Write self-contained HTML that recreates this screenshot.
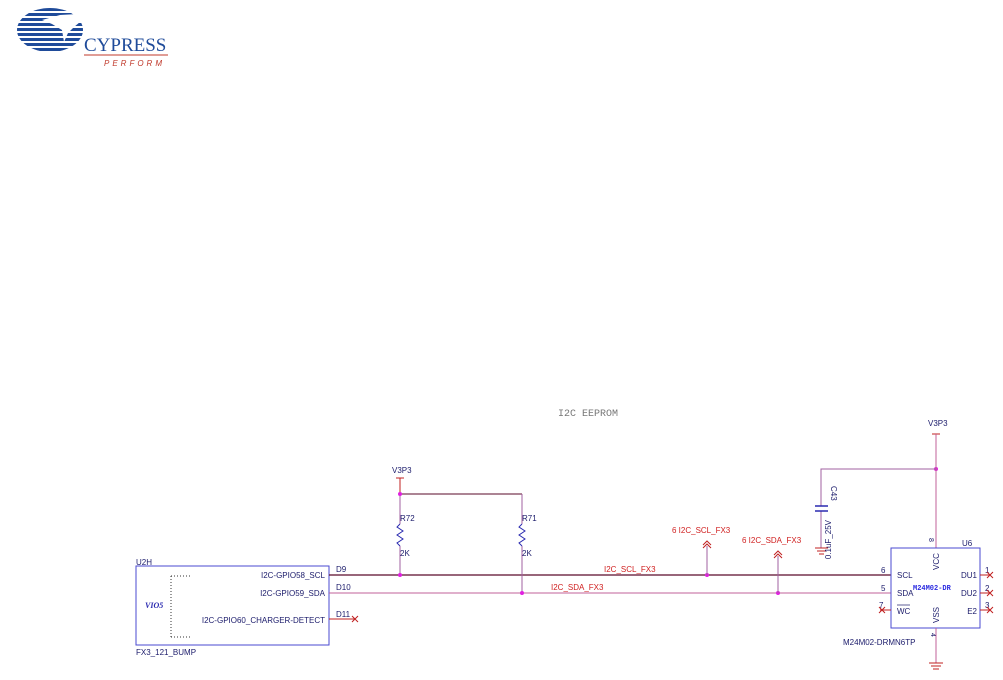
<!DOCTYPE html>
<html><head><meta charset="utf-8"><style>
html,body{margin:0;padding:0;background:#fff;}
svg{display:block;font-family:"Liberation Sans",sans-serif;}
</style></head><body>
<svg width="1003" height="680" viewBox="0 0 1003 680" xmlns="http://www.w3.org/2000/svg">
<!-- logo -->
<g>
<clipPath id="lc"><ellipse cx="50" cy="30" rx="33" ry="22"/></clipPath>
<g clip-path="url(#lc)" fill="#1f4b9a">
<rect x="10" y="8" width="80" height="3"/><rect x="10" y="13" width="80" height="3"/>
<rect x="10" y="18" width="80" height="3"/><rect x="10" y="23" width="80" height="3"/>
<rect x="10" y="28" width="80" height="3"/><rect x="10" y="33" width="80" height="3"/>
<rect x="10" y="38" width="80" height="3"/><rect x="10" y="43" width="80" height="3"/>
<rect x="10" y="48" width="80" height="3"/>
</g>
<path d="M42 20 L60 15 L78 14 L96 16 L88 20 L80 22 L74 27 L68 33 L64 42 L62 30 L52 24 Z" fill="#fff"/>
<text x="84" y="51" style="font-family:'Liberation Serif',serif;font-size:19px" fill="#1f4b9a">CYPRESS</text>
<line x1="84" y1="55" x2="168" y2="55" stroke="#c0392b" stroke-width="1"/>
<text x="104" y="66" font-size="8" fill="#c0392b" letter-spacing="3" font-style="italic">PERFORM</text>
</g>
<text x="558" y="416" style="font-family:'Liberation Mono',monospace;font-size:10px" fill="#777">I2C EEPROM</text>

<!-- U2H -->
<text x="136" y="565" font-size="8" fill="#1b1b6b">U2H</text>
<rect x="136" y="566" width="193" height="79" fill="none" stroke="#4a4ad0" stroke-width="1"/>
<text x="136" y="655" font-size="8" fill="#1b1b6b">FX3_121_BUMP</text>
<path d="M171 576 V637 M171 576 H190 M171 637 H190" stroke="#333" stroke-dasharray="1,2" fill="none"/>
<text x="145" y="608" style="font-family:'Liberation Serif',serif;font-size:8px" font-style="italic" font-weight="bold" fill="#2a2ab0">VIO5</text>
<text x="325" y="578" font-size="8" text-anchor="end" fill="#1b1b6b">I2C-GPIO58_SCL</text>
<text x="325" y="596" font-size="8" text-anchor="end" fill="#1b1b6b">I2C-GPIO59_SDA</text>
<text x="325" y="623" font-size="8" text-anchor="end" fill="#1b1b6b">I2C-GPIO60_CHARGER-DETECT</text>
<text x="336" y="572" font-size="8" fill="#1b1b6b">D9</text>
<text x="336" y="590" font-size="8" fill="#1b1b6b">D10</text>
<text x="336" y="617" font-size="8" fill="#1b1b6b">D11</text>
<line x1="329" y1="619" x2="355" y2="619" stroke="#c02020"/>
<path d="M352 616 l6 6 M358 616 l-6 6" stroke="#c02020"/>

<!-- nets -->
<line x1="329" y1="575" x2="891" y2="575" stroke="#5a0a2a" stroke-width="1.2"/>
<line x1="329" y1="593" x2="891" y2="593" stroke="#c0609a" stroke-width="1"/>
<text x="604" y="572" font-size="8" fill="#d02020">I2C_SCL_FX3</text>
<text x="551" y="590" font-size="8" fill="#d02020">I2C_SDA_FX3</text>

<!-- pullups -->
<text x="392" y="473" font-size="8" fill="#1b1b6b">V3P3</text>
<line x1="396" y1="478" x2="404" y2="478" stroke="#c02020"/>
<line x1="400" y1="478" x2="400" y2="494" stroke="#c02020"/>
<line x1="400" y1="494" x2="522" y2="494" stroke="#5a0a2a"/>
<path d="M400 494 V524 M400 546 V575" fill="none" stroke="#a060a0"/>
<path d="M522 494 V524 M522 546 V593" fill="none" stroke="#a060a0"/>
<path d="M400 524 l-3 3 l6 4 l-6 4 l6 4 l-6 4 l3 3" fill="none" stroke="#2a2ab0"/>
<path d="M522 524 l-3 3 l6 4 l-6 4 l6 4 l-6 4 l3 3" fill="none" stroke="#2a2ab0"/>
<text x="400" y="521" font-size="8" fill="#1b1b6b">R72</text>
<text x="522" y="521" font-size="8" fill="#1b1b6b">R71</text>
<text x="400" y="556" font-size="8" fill="#1b1b6b">2K</text>
<text x="522" y="556" font-size="8" fill="#1b1b6b">2K</text>
<g fill="#e020e0">
<circle cx="400" cy="494" r="2"/><circle cx="400" cy="575" r="2"/><circle cx="522" cy="593" r="2"/>
<circle cx="707" cy="575" r="2"/><circle cx="778" cy="593" r="2"/><circle cx="936" cy="469" r="2"/>
</g>

<!-- off-page flags -->
<line x1="707" y1="575" x2="707" y2="546" stroke="#a060a0"/>
<path d="M703 545 l4 -4 l4 4 M703 548 l4 -4 l4 4" fill="none" stroke="#c02020"/>
<text x="672" y="533" font-size="8" fill="#d02020">6  I2C_SCL_FX3</text>
<line x1="778" y1="593" x2="778" y2="556" stroke="#a060a0"/>
<path d="M774 555 l4 -4 l4 4 M774 558 l4 -4 l4 4" fill="none" stroke="#c02020"/>
<text x="742" y="543" font-size="8" fill="#d02020">6  I2C_SDA_FX3</text>

<!-- VCC & cap -->
<text x="928" y="426" font-size="8" fill="#1b1b6b">V3P3</text>
<line x1="932" y1="434" x2="940" y2="434" stroke="#c02020"/>
<line x1="936" y1="434" x2="936" y2="548" stroke="#c0609a"/>
<path d="M936 469 H821 V506 M821 511 V548" fill="none" stroke="#a060a0"/>
<path d="M815 506 H828 M815 511 H828" stroke="#2a2ab0" stroke-width="1.5"/>
<path d="M815 548 H828 M817 551 H826 M819 554 H824" stroke="#c02020"/>
<text transform="translate(831,486) rotate(90)" font-size="8" fill="#1b1b6b">C43</text>
<text transform="translate(831,520) rotate(-90)" font-size="8" fill="#1b1b6b" text-anchor="end">0.1uF_25V</text>

<!-- U6 -->
<rect x="891" y="548" width="89" height="80" fill="none" stroke="#4a4ad0"/>
<text x="962" y="546" font-size="8" fill="#1b1b6b">U6</text>
<text transform="translate(929,538) rotate(90)" font-size="7" fill="#1b1b6b">8</text>
<text transform="translate(939,570) rotate(-90)" font-size="8" fill="#1b1b6b">VCC</text>
<text transform="translate(939,623) rotate(-90)" font-size="8" fill="#1b1b6b">VSS</text>
<text x="897" y="578" font-size="8" fill="#1b1b6b">SCL</text>
<text x="897" y="596" font-size="8" fill="#1b1b6b">SDA</text>
<text x="897" y="614" font-size="8" fill="#1b1b6b">WC</text>
<line x1="897" y1="605" x2="910" y2="605" stroke="#1b1b6b" stroke-width="0.7"/>
<text x="913" y="590" style="font-family:'Liberation Mono',monospace;font-size:7px" font-weight="bold" fill="#2a2ae0">M24M02-DR</text>
<text x="977" y="578" font-size="8" text-anchor="end" fill="#1b1b6b">DU1</text>
<text x="977" y="596" font-size="8" text-anchor="end" fill="#1b1b6b">DU2</text>
<text x="977" y="614" font-size="8" text-anchor="end" fill="#1b1b6b">E2</text>
<text x="881" y="573" font-size="8" fill="#1b1b6b">6</text>
<text x="881" y="591" font-size="8" fill="#1b1b6b">5</text>
<text x="879" y="608" font-size="8" fill="#1b1b6b">7</text>
<path d="M880 610 H891 M879 607 l6 6 M885 607 l-6 6" fill="none" stroke="#c02020"/>
<text x="985" y="573" font-size="8" fill="#1b1b6b">1</text>
<text x="985" y="591" font-size="8" fill="#1b1b6b">2</text>
<text x="985" y="608" font-size="8" fill="#1b1b6b">3</text>
<path d="M980 575 H990 M987 572 l6 6 M993 572 l-6 6" fill="none" stroke="#c02020"/>
<path d="M980 593 H990 M987 590 l6 6 M993 590 l-6 6" fill="none" stroke="#c02020"/>
<path d="M980 610 H990 M987 607 l6 6 M993 607 l-6 6" fill="none" stroke="#c02020"/>
<text x="843" y="645" font-size="8" fill="#1b1b6b">M24M02-DRMN6TP</text>
<text transform="translate(931,633) rotate(90)" font-size="7" fill="#1b1b6b">4</text>
<line x1="936" y1="628" x2="936" y2="663" stroke="#c0609a"/>
<path d="M929 663 H943 M931 666 H941 M933 669 H939" stroke="#c02020"/>
</svg>
</body></html>
